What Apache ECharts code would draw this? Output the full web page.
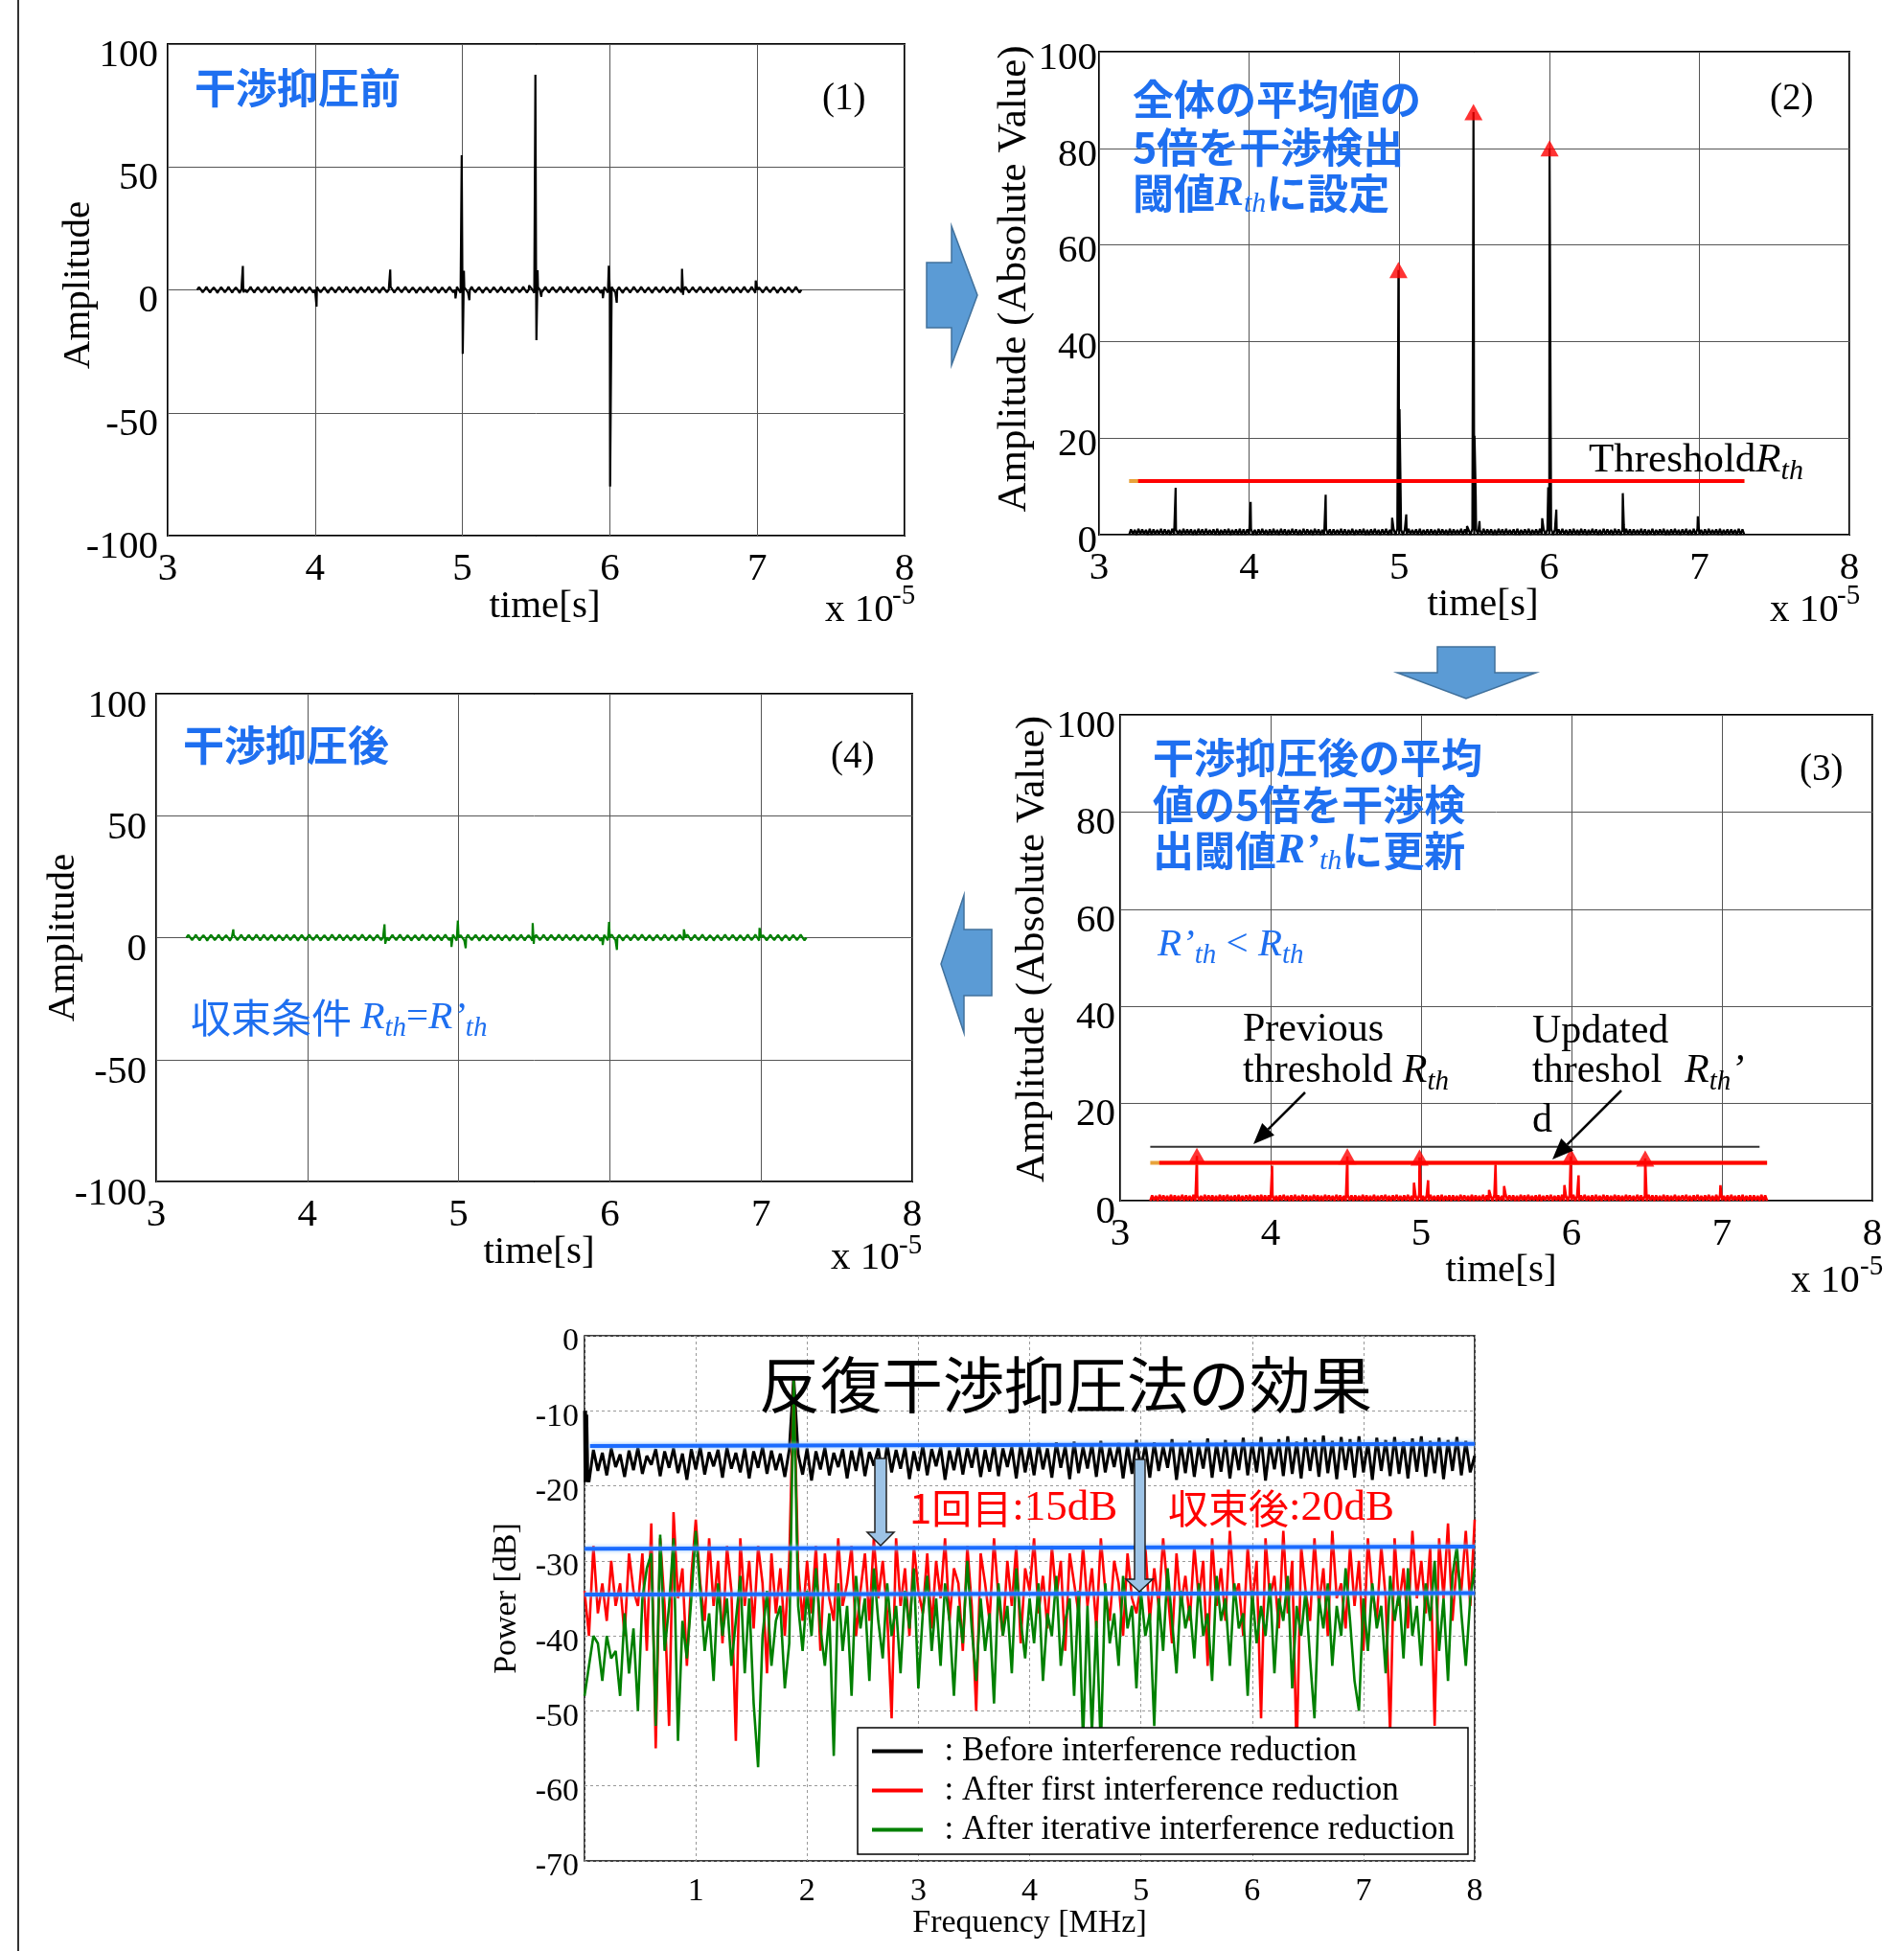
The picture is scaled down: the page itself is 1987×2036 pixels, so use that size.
<!DOCTYPE html>
<html><head><meta charset="utf-8">
<script src="https://cdn.jsdelivr.net/npm/echarts/dist/echarts.min.js"></script>
<style>html,body{margin:0;padding:0;background:#fff}#c{width:1987px;height:2036px}</style>
</head><body><div id="c"></div>
<script>
// ---------------- DATA ----------------
// time axis sampling (units of 1e-5 s)
const T_START = 3.2, T_STEP = 0.0125;
// background ripple of the received signal (signed amplitude)
const timeNoise = [
0,1.1,.1,-1,0,1.2,-.1,-1.1,.1,1,0,-1.2,0,1.1,.1,-1,-.1,1.2,0,-1.1,
.1,1,0,-1.2,0,1.1,.1,-1,0,1.2,-.1,-1.1,.1,1.1,0,-1,0,1.2,.1,-1.1,
0,1.2,-.1,-1,.1,1.1,0,-1.2,0,1,.1,-1.1,-.1,1.2,0,-1,.1,1.1,0,-1.2,
0,1.1,0,-1.1,.1,1.2,0,-1,0,1.1,-.1,-1.2,.1,1,0,-1.1,0,1.2,.1,-1,
0,1.2,.1,-1.1,0,1,-.1,-1.2,.1,1.1,0,-1,0,1.2,.1,-1.1,-.1,1,0,-1.2,
.1,1.1,0,-1,0,1.2,.1,-1.1,0,1.1,-.1,-1,.1,1.2,0,-1.1,0,1,.1,-1.2,
0,1,-.1,-1.1,.1,1.2,0,-1,0,1.1,.1,-1.2,-.1,1,0,-1.1,.1,1.2,0,-1,
0,1.2,0,-1.2,.1,1,0,-1.1,0,1.2,-.1,-1,.1,1.1,0,-1.2,0,1,.1,-1.1,
0,1.1,.1,-1,0,1.2,-.1,-1.1,.1,1,0,-1.2,0,1.1,.1,-1,-.1,1.2,0,-1.1,
.1,1,0,-1.2,0,1.1,.1,-1,0,1.2,-.1,-1.1,.1,1.1,0,-1,0,1.2,.1,-1.1,
0,1.2,-.1,-1,.1,1.1,0,-1.2,0,1,.1,-1.1,-.1,1.2,0,-1,.1,1.1,0,-1.2,
0,1.1,0,-1.1,.1,1.2,0,-1,0,1.1,-.1,-1.2,.1,1,0,-1.1,0,1.2,.1,-1,
0,1.2,.1,-1.1,0,1,-.1,-1.2,.1,1.1,0,-1,0,1.2,.1,-1.1,-.1,1,0,-1.2,
.1,1.1,0,-1,0,1.2,.1,-1.1,0,1.1,-.1,-1,.1,1.2,0,-1.1,0,1,.1,-1.2,
0,1,-.1,-1.1,.1,1.2,0,-1,0,1.1,.1,-1.2,-.1,1,0,-1.1,.1,1.2,0,-1,
0,1.2,0,-1.2,.1,1,0,-1.1,0,1.2,-.1,-1,.1,1.1,0,-1.2,0,1,.1,-1.1,
0,1.1,.1,-1,0,1.2,0,-1.1,0
];
// interference pulses before reduction [time, amplitude]
const rawSpikes = [[3.51,9.7],[3.515,-1],[4.01,-6.8],[4.51,8.3],[4.953,-3.5],[4.995,54.8],[5.002,-26],[5.01,7.8],[5.047,-4.2],
 [5.452,1.8],[5.495,87.5],[5.502,-20.5],[5.51,8],[5.535,-2.8],[5.953,-3.4],[5.993,9.8],[6.002,-80],[6.047,-5.2],[6.49,8.6],[6.497,-2],[6.99,3.8]];
// pulses remaining after the first reduction (absolute value)
const firstSpikes = [[3.51,9.2],[4.01,7.2],[4.51,9.1],[4.953,3.7],[4.99,8.9],[5.047,4.2],[5.452,2.2],[5.495,7.5],[5.552,3],
 [5.953,3.2],[5.995,9.1],[6.047,5.2],[6.49,8.7],[6.99,3.2]];
// pulses remaining after iterative reduction (signed)
const iterSpikes = [[3.51,3.4],[4.51,5.5],[4.515,-2.5],[4.953,-3.8],[4.995,7],[5.047,-4.3],[5.49,6],[5.497,-2.5],
 [5.953,-3],[5.995,6.5],[6.047,-5],[6.49,3.4],[6.99,4]];
// thresholds
const rth = 11.1, rthNew = 7.8;
const thrStart = 3.2, thrRedStart = 3.26, thrEnd = 7.3, prevThrEnd = 7.25;

// spectrum (0..8 MHz, step 0.04 MHz)
const F_STEP = 0.04;
const blackDC = [[0,-10],[0.005,-19.5],[0.01,-10],[0.015,-19.5],[0.02,-10.5],[0.03,-19]];
const blackPower = [-10,-19.5,-15.2,-18.0,-15.6,-18.6,-15.0,-17.5,-15.8,-18.8,
-15.3,-17.9,-14.9,-18.4,-16.0,-17.2,-15.1,-18.7,-15.4,-17.6,
-15.0,-18.3,-15.7,-19.2,-15.1,-17.8,-14.8,-18.5,-15.5,-17.4,
-15.2,-18.9,-14.9,-17.7,-15.6,-18.2,-15.0,-19.0,-15.4,-17.6,
-14.8,-18.4,-15.3,-17.9,-15.7,-18.8,-15.2,-5.5,-15.8,-18.5,
-15.0,-19.3,-15.4,-17.8,-14.9,-18.6,-15.6,-17.5,-15.1,-19.0,
-15.3,-18.0,-14.7,-18.7,-15.5,-17.3,-15.0,-18.9,-14.5,-18.2,
-15.2,-17.7,-14.9,-19.1,-15.4,-18.0,-14.6,-18.6,-15.1,-17.4,
-14.8,-19.2,-15.3,-17.9,-14.7,-18.5,-15.0,-17.6,-14.6,-18.8,
-15.2,-18.1,-14.5,-18.7,-15.0,-17.5,-14.8,-19.0,-14.4,-18.2,
-14.9,-18.6,-14.3,-17.8,-15.0,-18.9,-14.2,-17.6,-14.7,-19.1,
-14.1,-18.3,-14.8,-17.7,-14.4,-18.8,-14.0,-18.2,-14.9,-17.5,
-14.3,-19.0,-14.6,-18.4,-13.9,-17.8,-14.5,-18.9,-14.2,-18.0,
-14.7,-17.6,-13.8,-19.2,-14.4,-18.3,-14.0,-18.8,-14.6,-17.7,
-13.7,-18.9,-14.3,-18.1,-13.9,-19.0,-14.5,-17.9,-13.6,-18.6,
-14.2,-18.2,-13.5,-19.3,-14.4,-17.8,-13.8,-18.7,-13.4,-18.4,
-14.1,-19.0,-13.6,-18.0,-13.9,-18.8,-13.3,-18.3,-14.0,-19.1,
-13.5,-17.9,-13.8,-18.9,-13.4,-18.2,-14.2,-19.2,-13.6,-18.0,
-13.9,-18.7,-13.5,-18.4,-14.1,-19.0,-13.7,-18.1,-13.4,-18.8,
-14.0,-18.3,-13.6,-19.1,-13.9,-18.0,-13.5,-18.6,-14.0,-18.2,
-16.0];
const redPower = [-34,-40,-28,-37,-33,-38,-30,-36,-33,-40,
-29,-34,-36,-29,-42,-25,-55,-27,-36,-52,
-23.5,-35,-31,-44,-32,-24.5,-33,-38,-27,-36,
-30,-41,-28,-34,-54,-27,-36,-30,-39,-28,
-33,-45,-29,-37,-31,-40,-30,-5.5,-31,-38,
-30,-37,-28,-42,-29,-35,-38,-27,-36,-33,
-28,-40,-34,-29,-38,-27,-35,-30,-37,-51,
-27,-36,-31,-40,-28,-34,-37,-29,-39,-30,
-35,-27,-38,-31,-33,-42,-28,-36,-50,-29,
-33,-38,-27,-35,-40,-30,-36,-28,-41,-31,
-34,-27,-37,-32,-39,-28,-35,-30,-42,-29,
-33,-37,-28,-36,-31,-39,-27,-34,-38,-30,
-33,-40,-29,-35,-37,-33,-28,-38,-31,-36,
-27,-34,-41,-29,-36,-32,-38,-28,-35,-30,
-44,-27,-36,-31,-38,-26,-35,-33,-40,-28,
-36,-30,-51,-27,-35,-32,-39,-26,-37,-30,
-56,-28,-34,-38,-27,-36,-31,-40,-26,-35,
-33,-39,-28,-36,-30,-42,-27,-34,-38,-28,
-35,-53,-27,-36,-31,-39,-26,-35,-30,-37,
-28,-52,-27,-35,-25,-38,-30,-34,-26,-36,
-24.5];
const greenPower = [-48,-44,-40,-41,-46,-40,-43,-42,-48,-37,
-45,-39,-50,-35,-31,-29,-52,-26.5,-42,-36,
-27,-54,-38,-43,-35,-26,-34,-42,-37,-46,
-33,-40,-35,-44,-38,-32,-45,-35,-49,-57.5,
-40,-34,-44,-38,-36,-47,-41,-5.5,-36,-42,
-34,-40,-31,-39,-44,-37,-56,-33,-42,-36,
-48,-32,-39,-35,-46,-31,-38,-43,-33,-40,
-36,-45,-34,-39,-31,-47,-37,-32,-42,-35,
-44,-33,-38,-48,-36,-41,-30,-39,-46,-35,
-42,-37,-49,-33,-40,-36,-45,-31,-38,-43,
-35,-41,-33,-46,-37,-40,-32,-44,-38,-35,
-48,-34,-54,-36,-53,-38,-55,-33,-41,-37,
-44,-32,-39,-36,-47,-34,-40,-37,-52,-35,
-42,-31,-38,-45,-34,-39,-36,-43,-33,-40,
-37,-46,-32,-38,-35,-44,-33,-39,-37,-48,
-34,-41,-36,-40,-33,-45,-35,-38,-32,-47,
-36,-40,-34,-43,-51,-35,-39,-33,-44,-36,
-40,-31,-38,-46,-50,-35,-42,-33,-39,-36,
-45,-32,-38,-34,-43,-31,-40,-36,-44,-33,
-38,-30,-42,-35,-46,-32,-28,-37,-44,-35,
-31];
// reference levels (start/end dB) and their frequency spans
const levelLines = [[-14.7,-14.4],[-28.4,-28.1],[-34.5,-34.3]];
const levelSpans = [[0.05,8],[0,8],[0,8]];
const spectrumNames = ['Before interference reduction','After first interference reduction','After iterative interference reduction'];

// ---------------- BUILD ----------------
const SERIF = "'Liberation Serif','Times New Roman',serif";
const CJK = "'Noto Sans CJK JP','Noto Sans CJK SC',sans-serif";
const BLUE = '#1E6FF0';

function timePoints(vals){ return vals.map((v,i)=>[+(T_START + i*T_STEP).toFixed(4), v]); }
function merge(base, spikes){ return base.concat(spikes).sort((a,b)=>a[0]-b[0]); }
function peaksAbove(points, thr){
  const c = points.filter(p=>p[1]>thr).sort((a,b)=>a[0]-b[0]); const out=[];
  c.forEach(p=>{ const l=out[out.length-1]; if(l && p[0]-l[0]<0.05){ if(p[1]>l[1]){ l[0]=p[0]; l[1]=p[1]; } } else out.push([p[0],p[1]]); });
  return out;
}
const sig1 = merge(timePoints(timeNoise), rawSpikes);
const sig2 = sig1.map(p=>[p[0], Math.abs(p[1])]);
const sig3 = merge(timePoints(timeNoise.map(Math.abs)), firstSpikes);
const sig4 = merge(timePoints(timeNoise), iterSpikes);
const det2 = peaksAbove(sig2, rth);
const det3 = peaksAbove(firstSpikes, rthNew);
const specPts = arr => arr.map((v,i)=>[+(i*F_STEP).toFixed(2), v]);

function tAxisX(gi, gap, padL){ return { type:'value', gridIndex:gi, min:3, max:8, interval:1, name:'time[s]', nameLocation:'middle', nameGap:gap,
  nameMoveOverlap:false,
  nameTextStyle:{fontFamily:SERIF,fontSize:41,color:'#000',padding:[0,0,0,padL]}, axisLine:{show:false}, axisTick:{show:false},
  axisLabel:{fontFamily:SERIF,fontSize:41,color:'#000',margin:15}, splitLine:{show:true,lineStyle:{color:'#555',width:1}} }; }
function aAxisY(gi,min,max,interval,name,gap,margin,shift,nameSize,padL){ return { type:'value', gridIndex:gi, min, max, interval, name, nameLocation:'middle', nameGap:gap,
  nameMoveOverlap:false,
  nameTextStyle:{fontFamily:SERIF,fontSize:nameSize,color:'#000',padding:[0,0,0,padL]}, axisLine:{show:false}, axisTick:{show:false},
  axisLabel:{fontFamily:SERIF,fontSize:41,color:'#000',margin,verticalAlign:'top',lineHeight:shift*2}, splitLine:{show:true,lineStyle:{color:'#555',width:1}} }; }

const gridBox = {show:true, borderColor:'#000', borderWidth:2, backgroundColor:'rgba(0,0,0,0)'};
const grids = [
  Object.assign({left:175, top:46, width:769, height:513}, gridBox),
  Object.assign({left:1147, top:54, width:783, height:504}, gridBox),
  Object.assign({left:1169, top:746, width:785, height:507}, gridBox),
  Object.assign({left:163, top:724, width:789, height:509}, gridBox),
  Object.assign({left:610, top:1394, width:929, height:548}, gridBox, {borderWidth:1.5})
];
const dotted = {show:true, lineStyle:{color:'#999', width:1, type:[3,3]}};
const xAxes = [tAxisX(0,54,18), tAxisX(1,53,18), tAxisX(2,53,10), tAxisX(3,54,10),
  { type:'value', gridIndex:4, min:0, max:8, interval:1, name:'Frequency [MHz]', nameLocation:'middle', nameGap:48, nameMoveOverlap:false,
    nameTextStyle:{fontFamily:SERIF,fontSize:34,color:'#000'}, axisLine:{show:false}, axisTick:{show:false},
    axisLabel:{fontFamily:SERIF,fontSize:34,color:'#000',margin:15, formatter:v=> v===0?'':String(v)}, splitLine:dotted }];
const yAxes = [aAxisY(0,-100,100,50,'Amplitude',72,10,12,41,10), aAxisY(1,0,100,20,'Amplitude (Absolute Value)',67,2,7,43,30),
  aAxisY(2,0,100,20,'Amplitude (Absolute Value)',70,5,12,43,18), aAxisY(3,-100,100,50,'Amplitude',76,10,13,41,0),
  { type:'value', gridIndex:4, min:-70, max:0, interval:10, name:'Power [dB]', nameLocation:'middle', nameGap:64, nameMoveOverlap:false,
    nameTextStyle:{fontFamily:SERIF,fontSize:34,color:'#000'}, axisLine:{show:false}, axisTick:{show:false},
    axisLabel:{fontFamily:SERIF,fontSize:34,color:'#000',margin:6,verticalAlign:'top',lineHeight:13}, splitLine:dotted }];

function line(name, gi, data, color, width, z){ return {type:'line', name, xAxisIndex:gi, yAxisIndex:gi, data, showSymbol:false, symbol:'none',
  lineStyle:{color, width}, itemStyle:{color}, z:z||2, silent:true}; }
function tri(name, gi, data){ return {type:'scatter', name, xAxisIndex:gi, yAxisIndex:gi, data, symbol:'triangle', symbolSize:[19,17], itemStyle:{color:'#FF0000'}, z:5}; }

const series = [
  line('sig1',0,sig1,'#000',2.2),
  line('sig2',1,sig2,'#000',2.2),
  line('thr2o',1,[[thrStart,rth],[thrEnd,rth]],'#E8A33B',4,3),
  line('thr2',1,[[thrRedStart,rth],[thrEnd,rth]],'#FF0000',4,3),
  tri('det2',1,det2),
  line('sig3',2,sig3,'#FF0000',2.5),
  line('prev3',2,[[thrStart,rth],[prevThrEnd,rth]],'#333',2,3),
  line('thr3o',2,[[thrStart,rthNew],[thrEnd,rthNew]],'#E8A33B',4,3),
  line('thr3',2,[[thrRedStart,rthNew],[thrEnd,rthNew]],'#FF0000',4,3),
  tri('det3',2,det3),
  line('sig4',3,sig4,'#008000',2.2),
  line(spectrumNames[0],4,blackDC.concat(specPts(blackPower).slice(1)),'#000',3),
  line(spectrumNames[1],4,specPts(redPower),'#FF0000',2.6),
  line(spectrumNames[2],4,specPts(greenPower),'#008000',2.6)
];
levelLines.forEach((l,k)=>{ const s=line('level'+k,4,[[levelSpans[k][0],l[0]],[levelSpans[k][1],l[1]]],'#1A6BFF',4,6);
  s.lineStyle.shadowColor='#8CC0FF'; s.lineStyle.shadowBlur=4; series.push(s); });

// ---------------- ANNOTATIONS ----------------
const G = [];
G.push({type:'line', shape:{x1:19,y1:0,x2:19,y2:2036}, style:{stroke:'#333',lineWidth:2}});
const blockStyle = {fill:'#5B9BD5', stroke:'#41719C', lineWidth:1.5};
G.push({type:'polygon', z:10, shape:{points:[[967,274],[993,274],[993,236],[1020,308],[993,381],[993,342],[967,342]]}, style:blockStyle});
G.push({type:'polygon', z:10, shape:{points:[[1500,675],[1560,675],[1560,702],[1603,702],[1530,729],[1458,702],[1500,702]]}, style:blockStyle});
G.push({type:'polygon', z:10, shape:{points:[[1035,970],[1035,1039],[1006,1039],[1006,1078],[982,1006],[1006,934],[1006,970]]}, style:blockStyle});
const lbStyle = {fill:'#9DC3E6', stroke:'#222', lineWidth:1.5};
G.push({type:'polygon', z:60, shape:{points:[[913,1522],[925,1522],[925,1599],[933,1599],[919,1613],[905,1599],[913,1599]]}, style:lbStyle});
G.push({type:'polygon', z:60, shape:{points:[[1184,1523],[1195,1523],[1195,1648],[1203,1648],[1189,1661],[1175,1648],[1184,1648]]}, style:lbStyle});

function txt(x,y,text,st){ G.push({type:'text', x, y, z:50, style:Object.assign({text, fill:'#000', fontFamily:SERIF, fontSize:40, verticalAlign:'middle', align:'left'}, st||{})}); }
const bj = {fontFamily:CJK, fontWeight:'bold', fontSize:43, fill:BLUE};
const bR = {fontFamily:SERIF, fontStyle:'italic', fontWeight:'bold', fontSize:45, fill:BLUE};
const bS = {fontFamily:SERIF, fontStyle:'italic', fontSize:30, fill:BLUE, padding:[22,0,0,0]};

// panel 1
txt(203,92,'干渉抑圧前',bj);
txt(858,104,'(1)',{fontSize:39});
// panel 2
txt(1182,104,'全体の平均値の',bj);
txt(1182,154,'5倍を干渉検出',bj);
txt(1182,202,'{a|閾値}{r|R}{s|th}{a|に設定}',{rich:{a:bj,r:bR,s:bS}});
txt(1847,104,'(2)',{fontSize:39});
txt(1658,481,'{n|Threshold}{r|R}{s|th}',{rich:{n:{fontFamily:SERIF,fontSize:43,fill:'#000'},r:{fontFamily:SERIF,fontStyle:'italic',fontSize:43,fill:'#000'},s:{fontFamily:SERIF,fontStyle:'italic',fontSize:30,fill:'#000',padding:[22,0,0,0]}}});
// panel 3
txt(1203,791,'干渉抑圧後の平均',bj);
txt(1203,840,'値の5倍を干渉検',bj);
txt(1203,888,'{a|出閾値}{r|R’}{s|th}{a|に更新}',{rich:{a:bj,r:bR,s:bS}});
txt(1878,804,'(3)',{fontSize:39});
const iR = {fontFamily:SERIF, fontStyle:'italic', fontSize:41, fill:BLUE};
const iS = {fontFamily:SERIF, fontStyle:'italic', fontSize:29, fill:BLUE, padding:[22,0,0,0]};
txt(1208,986,'{r|R’}{s|th}{n| < }{r|R}{s|th}',{rich:{r:iR,s:iS,n:{fontFamily:SERIF,fontSize:41,fill:BLUE}}});
const kR = {fontFamily:SERIF, fontStyle:'italic', fontSize:42, fill:'#000'};
const kS = {fontFamily:SERIF, fontStyle:'italic', fontSize:29, fill:'#000', padding:[22,0,0,0]};
const kN = {fontFamily:SERIF, fontSize:42, fill:'#000'};
txt(1297,1075,'Previous',{fontSize:42});
txt(1297,1118,'{n|threshold }{r|R}{s|th}',{rich:{n:kN,r:kR,s:kS}});
txt(1599,1077,'Updated',{fontSize:42});
txt(1599,1118,'threshol',{fontSize:42});
txt(1758,1118,'{r|R}{s|th}{r|’}',{rich:{r:kR,s:kS}});
txt(1599,1170,'d',{fontSize:42});
function arrow(x1,y1,x2,y2){ const dx=x2-x1, dy=y2-y1, L=Math.hypot(dx,dy), ux=dx/L, uy=dy/L, hl=22, hw=9;
  const bx=x2-ux*hl, by=y2-uy*hl;
  G.push({type:'line', z:50, shape:{x1,y1,x2:bx,y2:by}, style:{stroke:'#000',lineWidth:2.5}});
  G.push({type:'polygon', z:50, shape:{points:[[x2,y2],[bx-uy*hw,by+ux*hw],[bx+uy*hw,by-ux*hw]]}, style:{fill:'#000'}}); }
arrow(1362,1140,1308,1194);
arrow(1692,1138,1620,1210);
// panel 4
txt(191,778,'干渉抑圧後',bj);
txt(867,791,'(4)',{fontSize:39});
txt(199,1062,'{a|収束条件 }{r|R}{s|th}{n|=}{r|R’}{s|th}',{rich:{a:{fontFamily:CJK,fontSize:42,fill:BLUE},r:iR,s:iS,n:{fontFamily:SERIF,fontSize:41,fill:BLUE}}});
// exponent labels
[[861,637,931,622],[1847,637,1917,622],[1869,1337,1941,1322],[867,1313,938,1300]].forEach(p=>{
  txt(p[0],p[1],'x 10',{fontSize:41}); txt(p[2],p[3],'-5',{fontSize:29}); });
// spectrum title and labels
txt(1112,1445,'反復干渉抑圧法の効果',{fontFamily:CJK,fontSize:64,align:'center'});
const rj = {fontFamily:CJK, fontSize:42, fill:'#FF0000'};
const rs = {fontFamily:SERIF, fontSize:45, fill:'#FF0000'};
txt(949,1574,'{j|1回目}{s|:15dB}',{rich:{j:rj,s:rs}});
txt(1219,1574,'{j|収束後}{s|:20dB}',{rich:{j:rj,s:rs}});

const chart = echarts.init(document.getElementById('c'), null, {renderer:'canvas'});
chart.setOption({
  animation:false, backgroundColor:'#fff',
  grid:grids, xAxis:xAxes, yAxis:yAxes, series,
  legend:{ data:spectrumNames, orient:'vertical', left:895, top:1803, itemWidth:53, itemHeight:4, icon:'rect', itemGap:6,
    padding:[7,14,8,15], borderColor:'#000', borderWidth:1.5, backgroundColor:'#fff', selectedMode:false,
    textStyle:{fontFamily:SERIF, fontSize:35, color:'#000', lineHeight:34}, formatter:n=>'\u2002: '+n, z:20 },
  graphic:{elements:G}
});
</script></body></html>
